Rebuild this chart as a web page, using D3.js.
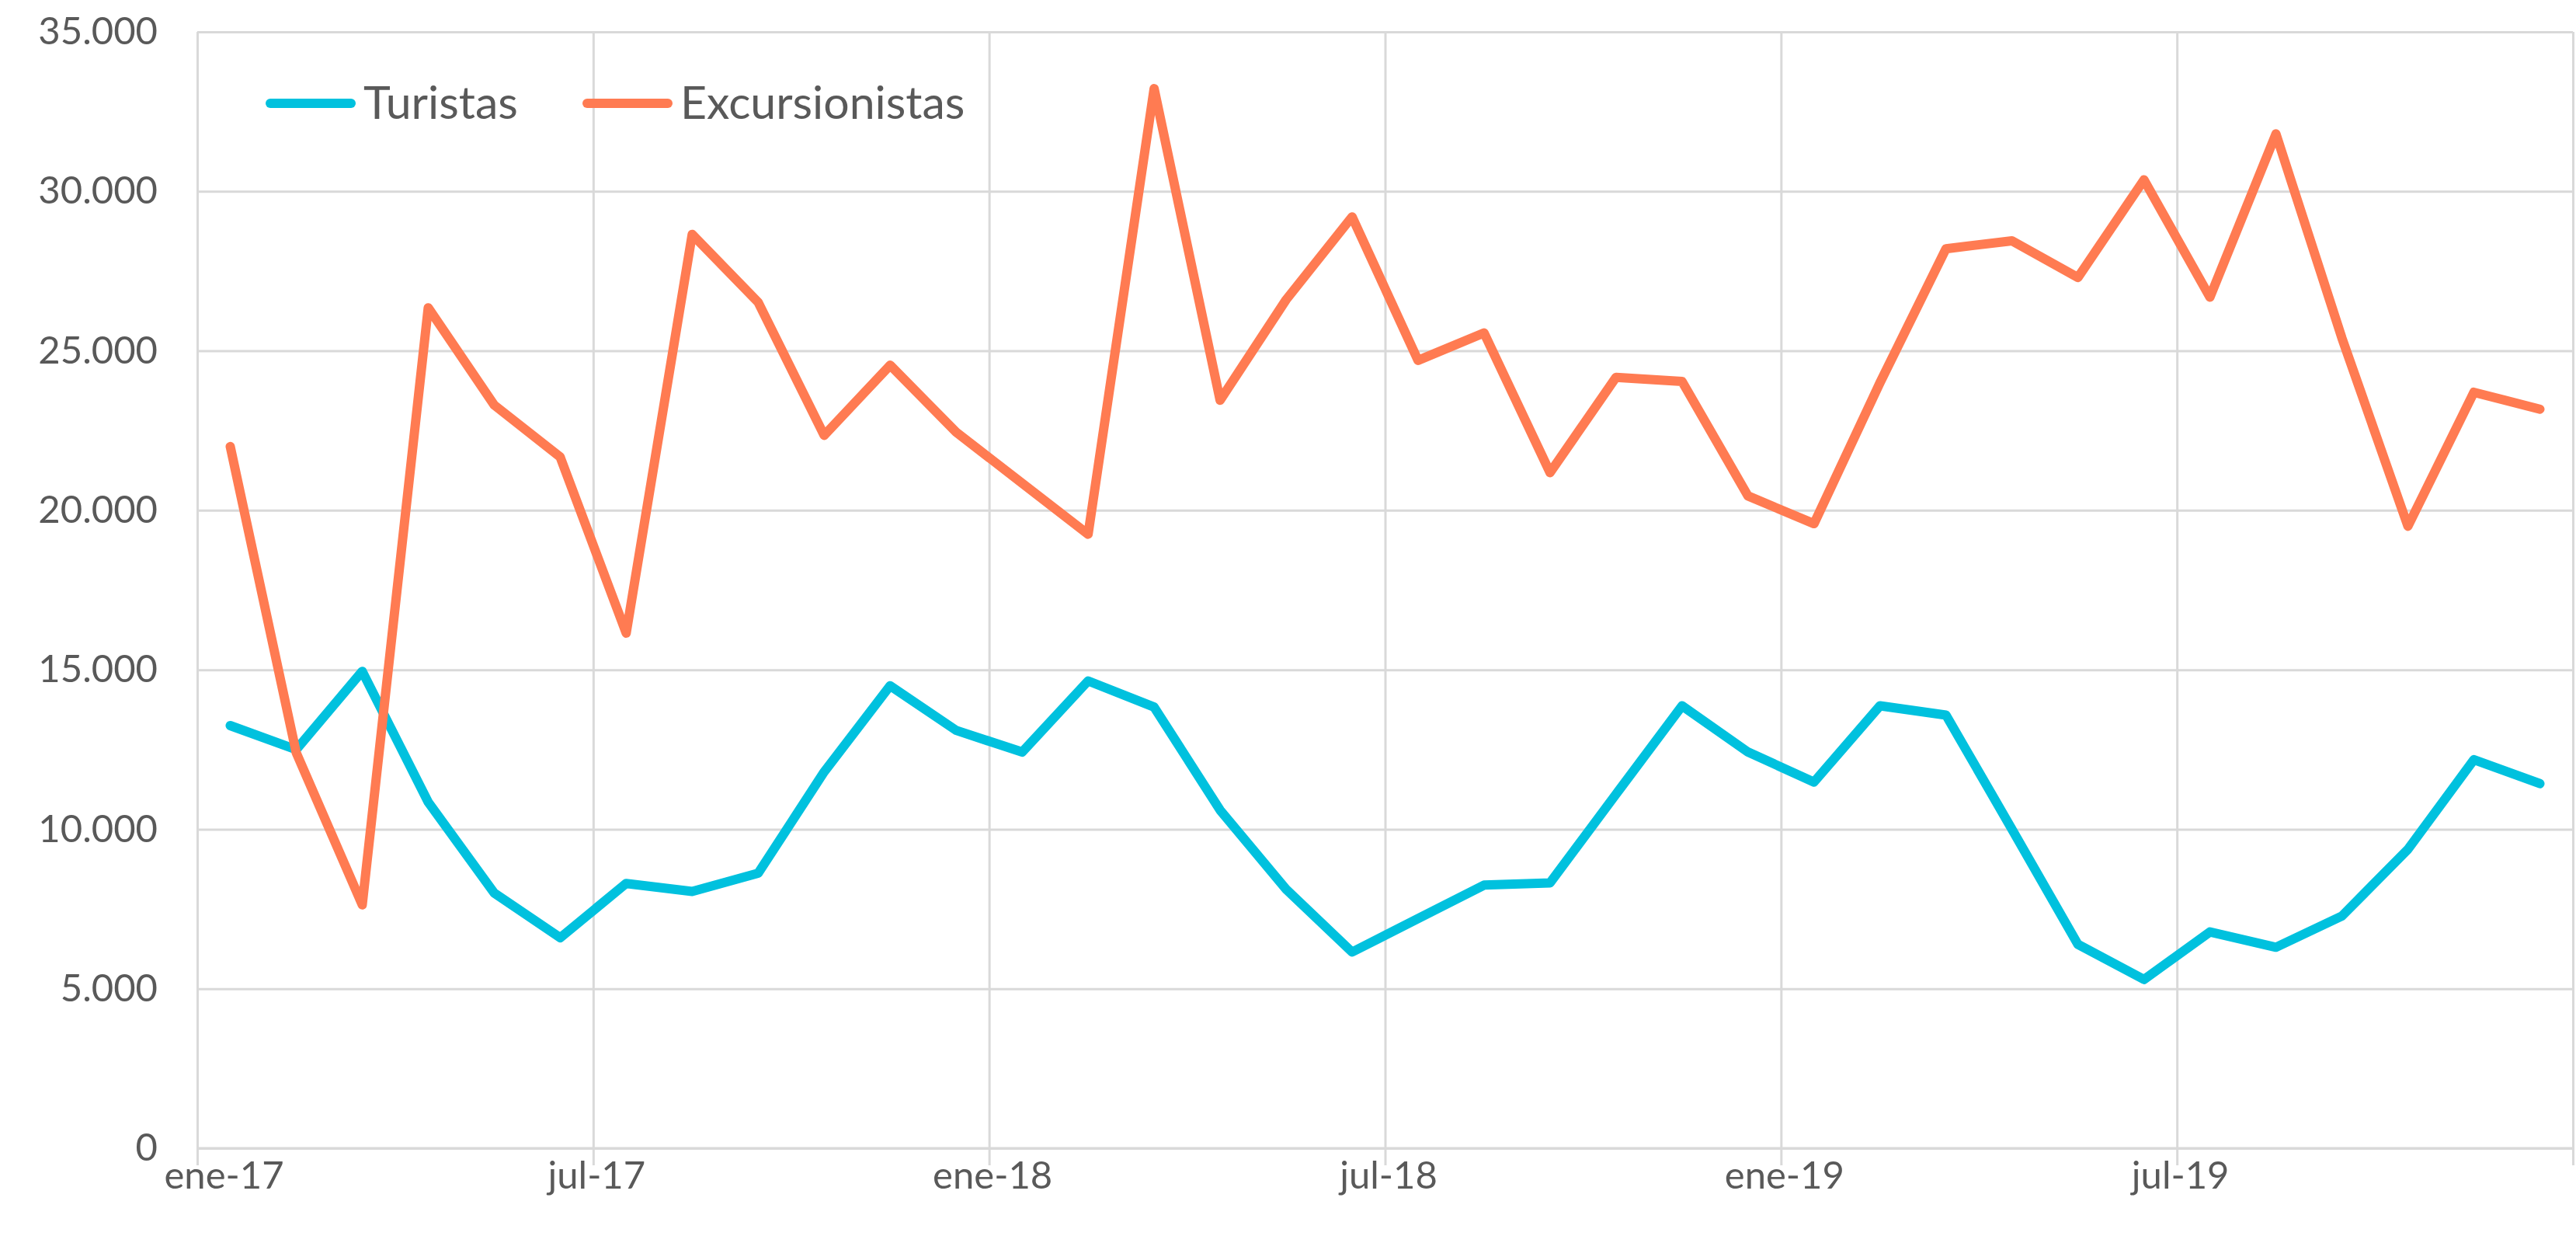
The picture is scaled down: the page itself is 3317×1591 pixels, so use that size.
<!DOCTYPE html>
<html>
<head>
<meta charset="utf-8">
<script src="https://cdn.jsdelivr.net/npm/d3@7"></script>
<style>
  body { margin: 0; background: #fff; }
  text { font-family: Lato, "Open Sans", sans-serif; fill: #595959; }
</style>
</head>
<body>
<script>
// months from ene-17 to dic-19, one value each
let months = d3.range(36);
let turistas = [13250, 12500, 14950, 10850, 8000, 6600, 8300, 8050, 8620, 11800, 14500, 13100,
                12420, 14650, 13830, 10600, 8120, 6150, 7200, 8250, 8320, 11100, 13870, 12420,
                11480, 13870, 13580, 10000, 6390, 5290, 6780, 6300, 7280, 9370, 12180, 11430];
let excursionistas = [22000, 12400, 7630, 26350, 23300, 21670, 16150, 28650, 26520, 22350, 24550, 22450,
                      20850, 19250, 33220, 23450, 26600, 29200, 24700, 25560, 21180, 24170, 24040, 20450,
                      19580, 24000, 28200, 28450, 27300, 30360, 26680, 31800, 25400, 19500, 23700, 23170];
let xTicks = [0, 6, 12, 18, 24, 30, 36];
let xTickLabels = ["ene-17", "jul-17", "ene-18", "jul-18", "ene-19", "jul-19", ""];
let yTicks = [0, 5000, 10000, 15000, 20000, 25000, 30000, 35000];
let seriesNames = ["Turistas", "Excursionistas"];
let colors = ["#00C1DE", "#FF7B52"];

let width = 3317, height = 1591;
let margin = {left: 254, right: 3313, top: 41, bottom: 1478};

let svg = d3.select("body")
  .append("svg")
  .attr("width", width)
  .attr("height", height);

// month index scale, points sit in the middle of each month
let x = d3.scaleLinear()
  .domain([0, 36])
  .range([margin.left, margin.right]);
let y = d3.scaleLinear()
  .domain([0, 35000])
  .range([margin.bottom, margin.top]);

let es = d3.formatLocale({decimal: ",", thousands: ".", grouping: [3], currency: ["", "€"]});
let fmt = es.format(",d");

// horizontal grid + y labels
let yaxis = d3.axisLeft(y)
  .tickValues(yTicks)
  .tickSize(-(margin.right - margin.left))
  .tickPadding(51)
  .tickFormat(fmt);
let gy = svg.append("g")
  .attr("transform", "translate(" + margin.left + ",0)")
  .call(yaxis);
gy.select(".domain").remove();
gy.selectAll("line").attr("stroke", "#d9d9d9").attr("stroke-width", 3);
gy.selectAll("text").style("font-size", "49px").attr("fill", "#595959");

// vertical grid, runs past the axis like excel tick marks
let xaxis = d3.axisBottom(x)
  .tickValues(xTicks)
  .tickSize(-(margin.bottom - margin.top))
  .tickSizeOuter(0)
  .tickFormat((d, i) => xTickLabels[i]);
let gx = svg.append("g")
  .attr("transform", "translate(0," + margin.bottom + ")")
  .call(xaxis);
gx.select(".domain").remove();
gx.selectAll("line")
  .attr("y1", 22)
  .attr("stroke", "#d9d9d9").attr("stroke-width", 3);
gx.selectAll("text")
  .attr("y", 52)
  .attr("dy", 0)
  .attr("dx", (d, i) => i == 0 ? 34 : 4) // first label is pushed in, as in excel
  .style("font-size", "49px")
  .attr("fill", "#595959");

// baseline on top of grid
svg.append("line")
  .attr("x1", margin.left).attr("x2", margin.right)
  .attr("y1", y(0)).attr("y2", y(0))
  .attr("stroke", "#d9d9d9").attr("stroke-width", 3);

let line = d3.line()
  .x((d, i) => x(months[i] + 0.5))
  .y(d => y(d));

[turistas, excursionistas].forEach((s, k) => {
  svg.append("path")
    .datum(s)
    .attr("d", line)
    .attr("fill", "none")
    .attr("stroke", colors[k])
    .attr("stroke-width", 12)
    .attr("stroke-linejoin", "round")
    .attr("stroke-linecap", "round");
});

// legend
let legendX = [348, 756];
let lg = svg.append("g");
seriesNames.forEach((name, k) => {
  lg.append("line")
    .attr("x1", legendX[k]).attr("x2", legendX[k] + 104)
    .attr("y1", 133).attr("y2", 133)
    .attr("stroke", colors[k])
    .attr("stroke-width", 12)
    .attr("stroke-linecap", "round");
  lg.append("text")
    .attr("x", legendX[k] + 120)
    .attr("y", 153)
    .style("font-size", "59px")
    .text(name);
});
</script>
</body>
</html>
